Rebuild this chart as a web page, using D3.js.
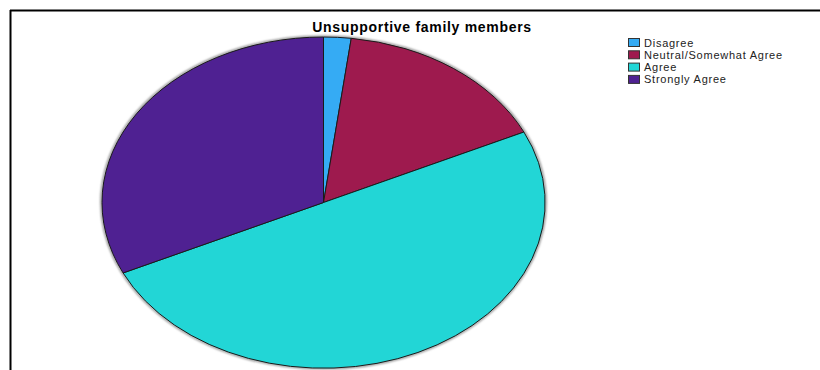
<!DOCTYPE html>
<html>
<head>
<meta charset="utf-8">
<script src="https://cdn.jsdelivr.net/npm/d3@7"></script>
<style>
  html, body { margin: 0; padding: 0; background: #fff; }
  svg { display: block; }
</style>
</head>
<body>
<svg id="chart" width="820" height="370"></svg>
<script>
// Responses to "Unsupportive family members"
const categories = ["Disagree", "Neutral/Somewhat Agree", "Agree", "Strongly Agree"];
const counts = [1, 8, 25, 16];
const colors = ["#35abf4", "#9e1a4e", "#22d6d6", "#4f2192"];
const title = "Unsupportive family members";

const svg = d3.select("#chart");

// Frame lines (top and left)
svg.append("line").attr("x1", 10).attr("x2", 820).attr("y1", 10.5).attr("y2", 10.5)
  .attr("stroke", "#000").attr("stroke-width", 2);
svg.append("line").attr("x1", 10.5).attr("x2", 10.5).attr("y1", 10).attr("y2", 370)
  .attr("stroke", "#000").attr("stroke-width", 2);

// Title
svg.append("text")
  .attr("x", 422).attr("y", 32)
  .attr("text-anchor", "middle")
  .attr("font-family", "Liberation Sans, Arial, sans-serif")
  .attr("font-weight", "bold")
  .attr("font-size", 14)
  .attr("letter-spacing", 0.7)
  .attr("fill", "#000")
  .text(title);

// Elliptical pie: circular arcs scaled vertically
const cx = 323.5, cy = 202.5, rx = 221.5, ry = 165.5;
const pie = d3.pie().sort(null).value(d => d);
const arc = d3.arc().innerRadius(0).outerRadius(rx);

const defs = svg.append("defs");
const blur = defs.append("filter").attr("id", "soft").attr("x", "-10%").attr("y", "-10%")
  .attr("width", "120%").attr("height", "120%");
blur.append("feGaussianBlur").attr("stdDeviation", 1.2);

const g = svg.append("g")
  .attr("transform", `translate(${cx},${cy}) scale(1,${ry / rx})`);

// faint shadow rim around the pie
g.append("circle").attr("r", rx + 0.8)
  .attr("fill", "none").attr("stroke", "#888").attr("stroke-width", 2)
  .attr("vector-effect", "non-scaling-stroke")
  .attr("filter", "url(#soft)");

g.selectAll("path.slice")
  .data(pie(counts))
  .join("path")
  .attr("class", "slice")
  .attr("d", arc)
  .attr("fill", (d, i) => colors[i])
  .attr("stroke", "#1a1a1a")
  .attr("stroke-width", 1)
  .attr("vector-effect", "non-scaling-stroke");

// Legend
const legend = svg.append("g").attr("transform", "translate(628,38)");
const rowH = 12.3;
const items = legend.selectAll("g.item").data(categories).join("g")
  .attr("class", "item")
  .attr("transform", (d, i) => `translate(0,${i * rowH})`);
items.append("rect")
  .attr("x", 0.5).attr("y", 0.5).attr("width", 11).attr("height", 8)
  .attr("fill", (d, i) => colors[i])
  .attr("stroke", "#333").attr("stroke-width", 1);
items.append("text")
  .attr("x", 16).attr("y", 8.5)
  .attr("font-family", "Liberation Sans, Arial, sans-serif")
  .attr("font-size", 11)
  .attr("letter-spacing", 0.75)
  .attr("fill", "#222")
  .text(d => d);
</script>
</body>
</html>
